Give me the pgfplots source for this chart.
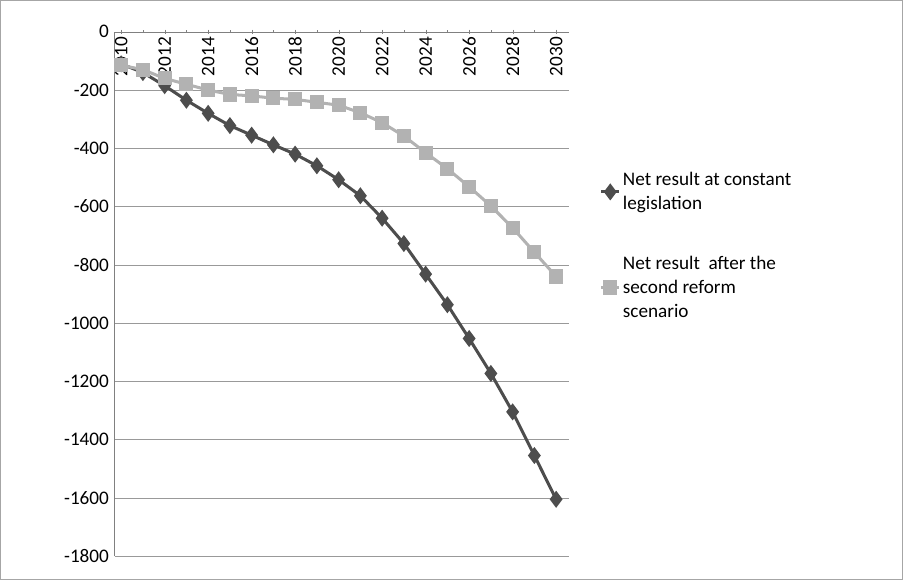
\documentclass[border=0pt]{standalone}
\usepackage{pgfplots}
\pgfplotsset{compat=1.18}
\usepackage{fontspec}
\setmainfont{Carlito}
\definecolor{dk}{RGB}{77,77,77}
\definecolor{lt}{RGB}{178,178,178}
\begin{document}
\begin{tikzpicture}[x=1pt,y=1pt]
\draw[gray!70,line width=1pt] (-113,-23) rectangle (780,550);
\begin{axis}[at={(0,0)},anchor=south west,scale only axis,width=450pt,height=519pt,
 xmin=2009.7,xmax=2030.6,ymin=-1800,ymax=0,
 axis x line=top, axis y line=left, axis line style={gray,-},
 ytick={0,-200,...,-1800}, ymajorgrids, grid style={gray!80},
 xtick={2010,2012,...,2030}, minor xtick={2011,2013,...,2029},
 tick style={gray}, ytick style={draw=none},
 x tick label style={rotate=90,anchor=east,font=\fontsize{19}{21}\selectfont,/pgf/number format/1000 sep={}},
 y tick label style={font=\fontsize{19}{21}\selectfont,/pgf/number format/1000 sep={}},
 xticklabel pos=lower,
 /pgf/number format/assume math mode=true,
 xticklabel shift=-4pt,
 legend image code/.code={\draw[#1] (0pt,0pt) -- (18pt,0pt) plot coordinates {(9pt,0pt)};},
 legend style={at={(1.06,0.74)},anchor=north west,draw=none,fill=none,
   font=\fontsize{19}{24}\selectfont,row sep=40pt,cells={align=left}},
 legend cell align=left,
]
\addplot[dk,line width=3pt,mark=diamond*,mark size=6pt] coordinates {
(2010,-110)(2011,-140)(2012,-185)(2013,-235)(2014,-280)(2015,-322)(2016,-355)(2017,-388)(2018,-420)(2019,-460)(2020,-508)(2021,-563)(2022,-640)(2023,-727)(2024,-832)(2025,-937)(2026,-1053)(2027,-1173)(2028,-1305)(2029,-1455)(2030,-1605)};
\addlegendentry{Net result\ at constant\\legislation}
\addplot[lt,line width=3pt,mark=square*,mark size=5.5pt] coordinates {
(2010,-115)(2011,-130)(2012,-160)(2013,-180)(2014,-200)(2015,-215)(2016,-220)(2017,-228)(2018,-232)(2019,-242)(2020,-252)(2021,-278)(2022,-312)(2023,-358)(2024,-415)(2025,-470)(2026,-532)(2027,-598)(2028,-673)(2029,-757)(2030,-840)};
\addlegendentry{Net result\ \ after the\\second reform\\scenario}
\end{axis}
\end{tikzpicture}
\end{document}
